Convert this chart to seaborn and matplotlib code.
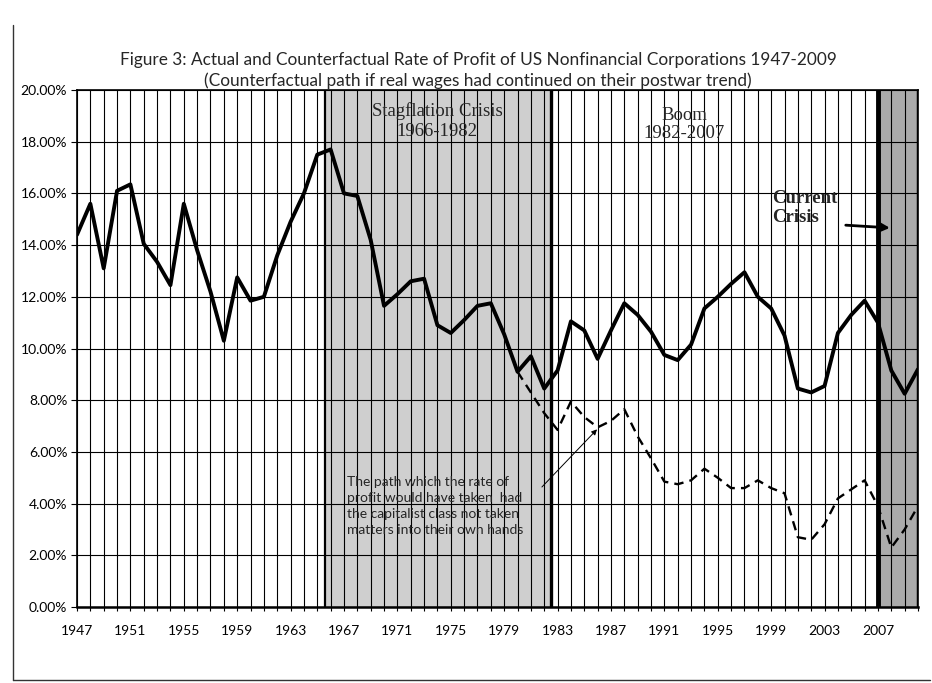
import matplotlib
matplotlib.use("Agg")
import matplotlib.pyplot as plt
import seaborn as sns
import pandas as pd
from matplotlib.ticker import FuncFormatter, FixedLocator

# ---- data ----
years = list(range(1947, 2011))
actual = [14.4, 15.6, 13.1, 16.1, 16.35, 14.05, 13.35, 12.45, 15.6, 13.8,
          12.2, 10.3, 12.75, 11.85, 12.0, 13.6, 14.9, 16.0, 17.5, 17.7,
          16.0, 15.9, 14.2, 11.65, 12.1, 12.6, 12.7, 10.9, 10.6, 11.1,
          11.65, 11.75, 10.55, 9.1, 9.7, 8.45, 9.15, 11.05, 10.7, 9.6,
          10.7, 11.75, 11.3, 10.65, 9.75, 9.55, 10.15, 11.55, 12.0, 12.5,
          12.95, 12.0, 11.55, 10.5, 8.45, 8.3, 8.55, 10.6, 11.3, 11.85,
          11.0, 9.15, 8.25, 9.2]
cf_years = list(range(1980, 2011))
counterfactual = [9.1, 8.3, 7.5, 6.85, 7.95, 7.35, 6.95, 7.2, 7.65, 6.6,
                  5.75, 4.85, 4.75, 4.9, 5.35, 5.0, 4.6, 4.6, 4.9, 4.6,
                  4.4, 2.7, 2.6, 3.2, 4.2, 4.55, 4.9, 3.9, 2.3, 3.0, 3.9]
tick_years = list(range(1947, 2008, 4))
y_ticks = list(range(0, 21, 2))
stagflation = (1965.6, 1982.5)
crisis = (2007, 2010)

title1 = "Figure 3: Actual and Counterfactual Rate of Profit of US Nonfinancial Corporations 1947-2009"
title2 = "(Counterfactual path if real wages had continued on their postwar trend)"
note = ("The path which the rate of\nprofit would have taken  had\n"
        "the capitalist class not taken\nmatters into their own hands")

df_a = pd.DataFrame({"year": years, "rate": actual})
df_c = pd.DataFrame({"year": cf_years, "rate": counterfactual})

sns.set_theme(style="white")
plt.rcParams["font.family"] = ["Lato", "DejaVu Sans"]

W, H = 932, 683
fig = plt.figure(figsize=(W / 100, H / 100), dpi=100)
fig.patch.set_facecolor("white")
ax = fig.add_axes([77 / W, 1 - 607 / H, (918 - 77) / W, (607 - 90) / H])

# shaded periods
ax.axvspan(*stagflation, color="#cfcfcf", lw=0, zorder=0)
ax.axvspan(*crisis, color="#ababab", lw=0, zorder=0)

sns.lineplot(data=df_c, x="year", y="rate", ax=ax, color="black",
             lw=1.7, linestyle=(0, (4, 2.6)), zorder=3)
sns.lineplot(data=df_a, x="year", y="rate", ax=ax, color="black",
             lw=2.8, zorder=4)

ax.set_xlim(years[0], years[-1])
ax.set_ylim(y_ticks[0], y_ticks[-1])
ax.xaxis.set_major_locator(FixedLocator(tick_years))
ax.xaxis.set_minor_locator(FixedLocator(years))
ax.yaxis.set_major_locator(FixedLocator(y_ticks))
ax.yaxis.set_major_formatter(FuncFormatter(lambda v, p: f"{v:.2f}%"))
ax.set_xlabel("")
ax.set_ylabel("")

ax.set_axisbelow(True)
ax.grid(True, which="both", axis="x", color="black", lw=0.8)
ax.grid(True, which="major", axis="y", color="black", lw=0.8)

ax.tick_params(axis="x", which="both", direction="out", length=3, width=0.8,
               color="black", pad=10, labelsize=10, labelcolor="black", bottom=True)
ax.tick_params(axis="y", which="major", direction="out", length=4, width=0.8,
               color="black", pad=3, labelsize=10, labelcolor="black", left=True)

for s in ax.spines.values():
    s.set_color("black")
    s.set_linewidth(1.2)
ax.spines["bottom"].set_linewidth(1.8)

# band borders
ax.axvline(stagflation[0], color="black", lw=1.6, zorder=2)
ax.axvline(stagflation[1], color="black", lw=2.4, zorder=2)
ax.axvline(crisis[0], color="black", lw=3.5, zorder=5)
ax.axvline(crisis[1], color="black", lw=2.5, zorder=5)

def fx(x):
    return x / W

def fy(y):
    return 1 - y / H

fig.text(fx(478), fy(60), title1, ha="center", va="center", fontsize=12.4)
fig.text(fx(478), fy(81), title2, ha="center", va="center", fontsize=12.4)

serif = ["Liberation Serif", "DejaVu Serif"]
fig.text(fx(437), fy(111), "Stagflation Crisis", ha="center", va="center",
         fontsize=13.5, family=serif)
fig.text(fx(437), fy(131), "1966-1982", ha="center", va="center",
         fontsize=13.5, family=serif)
fig.text(fx(684), fy(115), "Boom", ha="center", va="center",
         fontsize=13.5, family=serif)
fig.text(fx(684), fy(134), "1982-2007", ha="center", va="center",
         fontsize=13.5, family=serif)
fig.text(fx(772), fy(208), "Current\nCrisis", ha="left", va="center",
         fontsize=13.5, fontweight="bold", family=serif, linespacing=1.1)

ax.annotate("", xy=(2008.1, 14.66), xycoords="data",
            xytext=(843, H - 225), textcoords="figure pixels",
            arrowprops=dict(arrowstyle="-|>", color="black", lw=2,
                            mutation_scale=14), zorder=6)

fig.text(fx(347), fy(506), note, ha="left", va="center", fontsize=10,
         linespacing=1.38)
ax.annotate("", xy=(1986.1, 6.95), xycoords="data",
            xytext=(540, H - 489), textcoords="figure pixels",
            arrowprops=dict(arrowstyle="-|>", color="black", lw=0.7,
                            mutation_scale=8), zorder=6)

# outer frame of the figure
fig.add_artist(plt.Line2D([fx(13), fx(13)], [fy(25), fy(680)], color="#333333", lw=1))
fig.add_artist(plt.Line2D([fx(13), fx(930)], [fy(680), fy(680)], color="#333333", lw=1))

fig.savefig("out.png", dpi=100)
